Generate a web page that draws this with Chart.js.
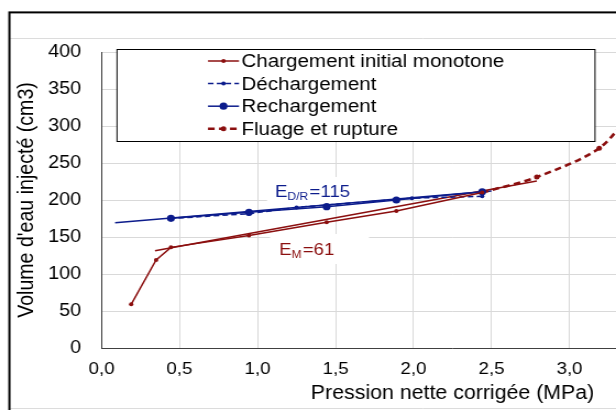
<!DOCTYPE html>
<html lang="fr">
<head>
<meta charset="UTF-8">
<title>Courbe pressiométrique</title>
<style>
  html, body { margin: 0; padding: 0; background: #fff; overflow: hidden; }
  /* l'original est étiré horizontalement : on fait pareil */
  #wrap { position: absolute; left: 0; top: 0; width: 760px; height: 420px; transform: scaleX(1.1); transform-origin: 0 0; }
</style>
</head>
<body>
<div id="wrap"><canvas id="myChart" width="760" height="420"></canvas></div>

<script src="https://cdn.jsdelivr.net/npm/chart.js"></script>
<script>
const SX = 1.1;
const ROUGE = '#8b0f0f';
const BLEU = '#0c1c8c';

// pression nette (MPa) / volume injecté (cm3)
const chargeP = [0.19, 0.35, 0.445, 0.945, 1.443, 1.89, 2.44];
const chargeV = [59, 119, 136, 152, 170, 185, 210];
const dechargeP = [2.44, 1.99, 1.25, 0.945, 0.445];
const dechargeV = [205, 202.5, 190, 181.5, 175];
const rechargeP = [0.445, 0.945, 1.443, 1.89, 2.44];
const rechargeV = [175.3, 183.4, 191, 200, 211];
const fluageP = [2.44, 2.79, 3.19, 3.42];
const fluageV = [210, 231, 270, 325];

// droites des modules
const droiteMP = [0.343, 2.79];
const droiteMV = [131.5, 225.7];
const droiteDRP = [0.087, 2.5];
const droiteDRV = [169.3, 212];

const xTickLabels = ['0,0', '0,5', '1,0', '1,5', '2,0', '2,5', '3,0', '3,5', '4,0', '4,5'];
const yTickLabels = ['0', '50', '100', '150', '200', '250', '300', '350', '400'];

const pts = (xs, ys) => xs.map((x, i) => ({ x: x, y: ys[i] }));

Chart.defaults.font.family = '"Liberation Sans", Arial, sans-serif';
Chart.defaults.color = '#000';

const cadre = {
    id: 'cadre',
    beforeDraw(chart) {
        const c = chart.ctx;
        c.save();
        c.fillStyle = '#fff';
        c.fillRect(0, 0, chart.width, chart.height);
        c.strokeStyle = '#dcdcdc';
        c.lineWidth = 1;
        c.beginPath();
        c.moveTo(10 / SX, 38.5); c.lineTo(chart.width, 38.5);
        c.moveTo(10 / SX, 408.5); c.lineTo(chart.width, 408.5);
        c.stroke();
        c.strokeStyle = '#000';
        c.lineWidth = 2;
        c.strokeRect(9.4 / SX, 12.4, chart.width + 50, 500);
        c.restore();
    }
};

function module(c, sub, val, x, y, col) {
    c.fillStyle = col;
    c.textBaseline = 'alphabetic';
    c.font = '17px "Liberation Sans", Arial, sans-serif';
    c.fillText('E', x, y);
    let w = c.measureText('E').width;
    c.font = '11px "Liberation Sans", Arial, sans-serif';
    c.fillText(sub, x + w, y + 3);
    w += c.measureText(sub).width;
    c.font = '17px "Liberation Sans", Arial, sans-serif';
    c.fillText(val, x + w + 1, y);
}

const etiquettes = {
    id: 'etiquettes',
    beforeDatasetsDraw(chart) {
        const c = chart.ctx;
        c.save();
        c.fillStyle = '#fff';
        c.fillRect(267 / SX, 177, 102 / SX, 26);
        c.fillRect(270 / SX, 234, 99 / SX, 30);
        module(c, 'D/R', '=115', 275 / SX, 197, BLEU);
        module(c, 'M', '=61', 279 / SX, 255, ROUGE);
        c.restore();
    }
};

const legende = {
    id: 'legende',
    afterDraw(chart) {
        const c = chart.ctx;
        const x0 = 117 / SX, x1 = 595 / SX, y0 = 49, y1 = 141;
        c.save();
        c.fillStyle = '#fff';
        c.fillRect(x0, y0, x1 - x0, y1 - y0);
        c.strokeStyle = '#000';
        c.lineWidth = 1;
        c.strokeRect(x0, y0 + 0.5, x1 - x0, y1 - y0);
        c.font = '18.7px "Liberation Sans", Arial, sans-serif';
        c.textBaseline = 'middle';
        let row = 0;
        chart.data.datasets.forEach(ds => {
            if (!ds.label) return;
            const y = 61 + row * 22.6;
            c.strokeStyle = ds.borderColor;
            c.lineWidth = ds.borderWidth;
            c.setLineDash(ds.borderDash || []);
            c.beginPath();
            c.moveTo(208 / SX, y);
            c.lineTo(239 / SX, y);
            c.stroke();
            c.setLineDash([]);
            c.fillStyle = ds.borderColor;
            c.beginPath();
            c.arc(223.5 / SX, y, ds.pointRadius, 0, Math.PI * 2);
            c.fill();
            c.fillStyle = '#000';
            c.fillText(ds.label, 241.5 / SX, y + 1);
            row++;
        });
        c.restore();
    }
};

const ctx = document.getElementById('myChart');

new Chart(ctx, {
    type: 'scatter',
    data: {
        datasets: [
            { label: 'Chargement initial monotone', data: pts(chargeP, chargeV), showLine: true,
              borderColor: ROUGE, backgroundColor: ROUGE, borderWidth: 1.5, pointRadius: 2, pointBorderWidth: 0 },
            { label: 'Déchargement', data: pts(dechargeP, dechargeV), showLine: true, borderDash: [5, 3],
              borderColor: BLEU, backgroundColor: BLEU, borderWidth: 1.5, pointRadius: 2, pointBorderWidth: 0 },
            { label: 'Rechargement', data: pts(rechargeP, rechargeV), showLine: true,
              borderColor: BLEU, backgroundColor: BLEU, borderWidth: 1.5, pointRadius: 3.6, pointBorderWidth: 0 },
            { label: 'Fluage et rupture', data: pts(fluageP, fluageV), showLine: true, borderDash: [6, 4], tension: 0.3,
              borderColor: ROUGE, backgroundColor: ROUGE, borderWidth: 2.6, pointRadius: 2.5, pointBorderWidth: 0 },
            { label: '', data: pts(droiteMP, droiteMV), showLine: true,
              borderColor: ROUGE, borderWidth: 1.5, pointRadius: 0 },
            { label: '', data: pts(droiteDRP, droiteDRV), showLine: true,
              borderColor: BLEU, borderWidth: 1.5, pointRadius: 0 }
        ]
    },
    options: {
        responsive: false,
        animation: false,
        layout: { padding: { top: 52, right: 760 - 730.5, left: 0, bottom: 0 } },
        plugins: { legend: { display: false }, tooltip: { enabled: false } },
        scales: {
            x: {
                type: 'linear', min: 0, max: 4.5,
                afterFit: s => { s.height = 72; },
                grid: { color: '#d9d9d9', drawTicks: false },
                border: { color: '#404040', width: 1 },
                ticks: { stepSize: 0.5, padding: 11, font: { size: 17 },
                         callback: (v, i) => xTickLabels[i] },
                title: { display: true, text: 'Pression nette corrigée (MPa)',
                         font: { size: 19.4 }, padding: { top: 0, bottom: 14.5 } }
            },
            y: {
                min: 0, max: 400,
                afterFit: s => { s.width = 101.5 / SX; },
                grid: { color: '#d9d9d9', drawTicks: false },
                border: { color: '#404040', width: 1 },
                ticks: { stepSize: 50, padding: 18.5, font: { size: 18 },
                         callback: (v, i) => yTickLabels[i] },
                title: { display: true, text: "Volume d'eau injecté (cm3)",
                         font: { size: 19.6 }, padding: { top: 12.5, bottom: 0 } }
            }
        }
    },
    plugins: [cadre, etiquettes, legende]
});
</script>
</body>
</html>
